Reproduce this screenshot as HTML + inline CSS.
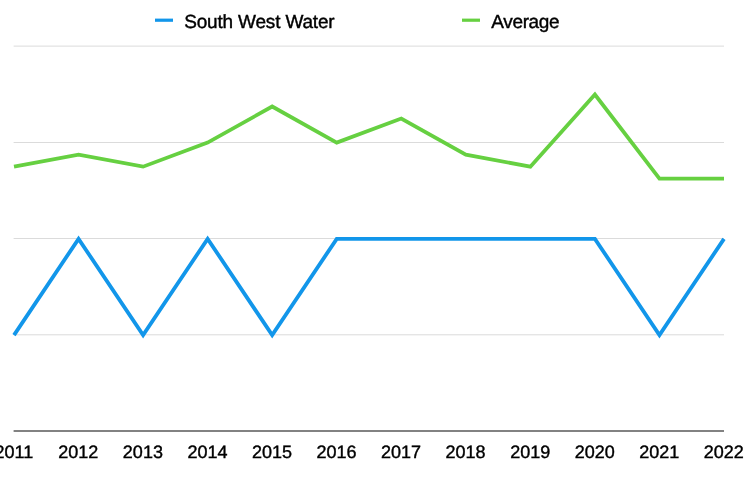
<!DOCTYPE html>
<html><head><meta charset="utf-8"><title>Chart</title>
<style>
html,body{margin:0;padding:0;background:#fff;}
body{width:752px;height:500px;overflow:hidden;}
svg{display:block;will-change:transform;}
text{font-family:"Liberation Sans",sans-serif;fill:#000;stroke:#000;stroke-width:0.4px;text-rendering:geometricPrecision;}
</style></head><body>
<svg width="752" height="500" viewBox="0 0 752 500">
<rect width="752" height="500" fill="#fff"/>
<rect x="13.6" y="45.60" width="710.4" height="1" fill="#dbdbdb"/>
<rect x="13.6" y="142.00" width="710.4" height="1" fill="#dbdbdb"/>
<rect x="13.6" y="238.00" width="710.4" height="1" fill="#dbdbdb"/>
<rect x="13.6" y="334.30" width="710.4" height="1" fill="#dbdbdb"/>
<rect x="13.6" y="430.3" width="710.4" height="1.4" fill="#4d4d4d"/>
<g transform="translate(0,0.35)">
<polyline points="14.00,166.31 78.55,154.28 143.09,166.31 207.64,142.25 272.18,106.16 336.73,142.25 401.27,118.19 465.82,154.28 530.36,166.31 594.91,94.12 659.45,178.34 724.00,178.34" fill="none" stroke="#66d041" stroke-width="3.8" stroke-linejoin="miter" stroke-linecap="butt"/>
<polyline points="14.00,334.75 78.55,238.50 143.09,334.75 207.64,238.50 272.18,334.75 336.73,238.50 401.27,238.50 465.82,238.50 530.36,238.50 594.91,238.50 659.45,334.75 724.00,238.50" fill="none" stroke="#1296ea" stroke-width="3.8" stroke-linejoin="miter" stroke-linecap="butt"/>
</g>
<rect x="155" y="18.6" width="18" height="3.2" fill="#1296ea"/>
<text x="184.15" y="27.65" font-size="19" textLength="150.5" lengthAdjust="spacing">South West Water</text>
<rect x="462" y="18.6" width="18" height="3.2" fill="#66d041"/>
<text x="491.25" y="27.8" font-size="19" textLength="68.4" lengthAdjust="spacing">Average</text>
<g font-size="18" letter-spacing="0" transform="translate(-0.2,0)">
<text x="14.00" y="457.7" text-anchor="middle">2011</text>
<text x="78.55" y="457.7" text-anchor="middle">2012</text>
<text x="143.09" y="457.7" text-anchor="middle">2013</text>
<text x="207.64" y="457.7" text-anchor="middle">2014</text>
<text x="272.18" y="457.7" text-anchor="middle">2015</text>
<text x="336.73" y="457.7" text-anchor="middle">2016</text>
<text x="401.27" y="457.7" text-anchor="middle">2017</text>
<text x="465.82" y="457.7" text-anchor="middle">2018</text>
<text x="530.36" y="457.7" text-anchor="middle">2019</text>
<text x="594.91" y="457.7" text-anchor="middle">2020</text>
<text x="659.45" y="457.7" text-anchor="middle">2021</text>
<text x="724.00" y="457.7" text-anchor="middle">2022</text>
</g>
</svg>
</body></html>
